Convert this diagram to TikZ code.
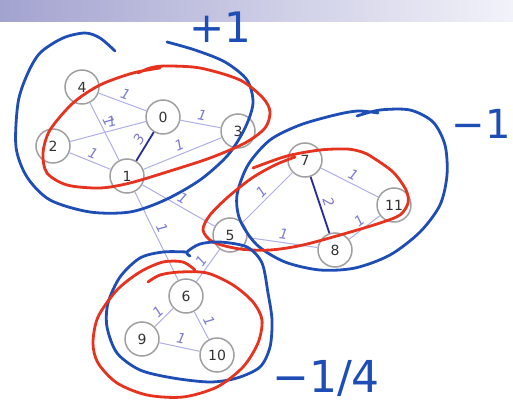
\documentclass[tikz,border=0pt]{standalone}
\usepackage{fontspec}
\setmainfont{DejaVu Sans}
\definecolor{ink}{HTML}{1E4DB5}
\definecolor{redink}{HTML}{E6331F}
\definecolor{lite}{HTML}{AEAEE8}
\definecolor{deep}{HTML}{2A2A96}
\definecolor{wlab}{HTML}{7C7CCF}
\definecolor{rim}{HTML}{A0A0A0}
\definecolor{bannerL}{HTML}{A3A3D0}
\definecolor{bannerR}{HTML}{F2F2F9}

\begin{document}
\begin{tikzpicture}[x=1pt,y=-1pt,
 vtx/.style={circle,draw=rim,line width=1.5pt,fill=white,minimum size=34pt,inner sep=0pt,
  font=\fontsize{14}{14}\selectfont,text=black!80},
 lt/.style={lite,line width=1pt},
 hv/.style={deep,line width=1.8pt},
 wt/.style={sloped,above=1pt,inner sep=2pt,font=\fontsize{14}{14}\selectfont\itshape,text=wlab},
 blu/.style={ink,line width=2.8pt,line cap=round,line join=round},
 rd/.style={redink,line width=2.8pt,line cap=round,line join=round},
 hand/.style={text=ink,inner sep=0pt}]
 \useasboundingbox (0,0) rectangle (513,406);
 \shade[left color=bannerL,right color=bannerR] (0,0) rectangle (513,22);

 \node[vtx] (n4) at (82,87) {4};
 \node[vtx] (n0) at (163,117) {0};
 \node[vtx] (n3) at (238,131) {3};
 \node[vtx] (n2) at (53,146) {2};
 \node[vtx] (n1) at (127,176) {1};
 \node[vtx] (n7) at (305,160) {7};
 \node[vtx] (n11) at (394,205) {11};
 \node[vtx] (n5) at (230,235) {5};
 \node[vtx] (n8) at (335,250) {8};
 \node[vtx] (n6) at (186,296) {6};
 \node[vtx] (n9) at (142,339) {9};
 \node[vtx] (n10) at (217,355) {10};

 \draw[lt](n4)--node[wt]{1}(n0);
 \draw[lt](n4)--node[wt,pos=.38]{1}(n1);
 \draw[lt](n2)--node[wt,pos=.58]{1}(n0);
 \draw[lt](n2)--node[wt]{1}(n1);
 \draw[hv](n0)--node[wt,pos=.4]{3}(n1);
 \draw[lt](n0)--node[wt]{1}(n3);
 \draw[lt](n1)--node[wt]{1}(n3);
 \draw[lt](n1)--node[wt]{1}(n5);
 \draw[lt](n1)--node[wt,pos=.45]{1}(n6);
 \draw[lt](n6)--node[wt]{1}(n5);
 \draw[lt](n5)--node[wt]{1}(n7);
 \draw[lt](n5)--node[wt]{1}(n8);
 \draw[hv](n7)--node[wt]{2}(n8);
 \draw[lt](n7)--node[wt]{1}(n11);
 \draw[lt](n8)--node[wt]{1}(n11);
 \draw[lt](n9)--node[wt]{1}(n6);
 \draw[lt](n6)--node[wt]{1}(n10);
 \draw[lt](n9)--node[wt]{1}(n10);

 \draw[blu]plot[smooth]coordinates{(115,51)(100,38)(85,33)(63,38)(40,53)(27,75)(18,103)(16,147)(27,177)
  (50,200)(90,212)(130,212)(165,200)(200,180)(228,155)(245,128)(253,103)(247,80)(225,62)(195,50)(167,42)};
 \draw[rd]plot[smooth]coordinates{(138,73)(150,68)(165,66)(200,68)(240,80)(263,98)(270,112)(265,128)(245,143)
  (210,158)(170,171)(130,183)(100,188)(67,185)(47,173)(43,153)(50,130)(73,103)(100,85)(133,73)(160,68)};
 \draw[blu]plot[smooth]coordinates{(357,116)(380,110)(410,110)(433,122)(445,145)(447,175)(440,205)(420,232)
  (390,255)(355,268)(320,270)(285,262)(257,245)(240,220)(237,195)(248,165)(270,140)(300,125)(335,115)(358,111)(378,113)};
 \draw[rd]plot[smooth]coordinates{(253,168)(287,156)(320,150)(347,149)(362,152)(372,157)(393,172)(406,190)
  (408,203)(400,215)(380,223)(347,233)(303,245)(270,250)(240,249)(213,242)(203,230)(210,215)(228,197)(252,178)(275,165)(295,157)};
 \draw[blu]plot[smooth]coordinates{(190,256)(187,252)(200,244)(220,242)(247,247)(262,263)(268,293)(272,320)
  (270,347)(260,367)(237,378)(210,382)(173,378)(140,370)(117,353)(107,327)(108,303)(120,277)(140,258)(163,252)(187,252)};
 \draw[rd]plot[smooth]coordinates{(148,282)(160,275)(180,272)(207,273)(233,285)(253,302)(262,320)(258,343)
  (243,367)(217,387)(183,397)(147,395)(117,383)(98,363)(93,343)(98,317)(117,290)(140,272)(163,262)(183,262)(195,270)};

 \node[hand,font=\fontsize{42}{42}\selectfont] (plusone) at (220,27) {+1};
 \node[hand,font=\fontsize{40}{40}\selectfont,anchor=east] (minusone) at (511,124) {−1};
 \node[hand,font=\fontsize{44}{44}\selectfont] (quarter) at (326,378) {−1/4};
\end{tikzpicture}
\end{document}
